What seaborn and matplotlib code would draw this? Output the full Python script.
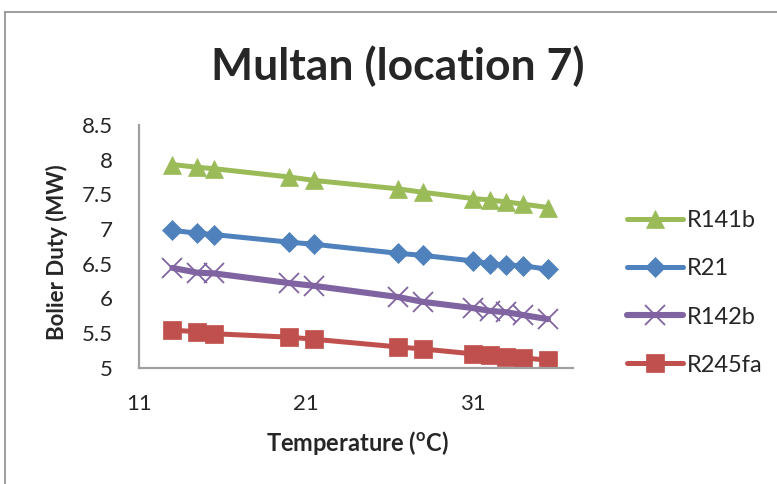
import matplotlib
matplotlib.use("Agg")
import matplotlib.pyplot as plt
import seaborn as sns
from matplotlib.lines import Line2D

temperature = [13, 14.5, 15.5, 20, 21.5, 26.5, 28, 31, 32, 33, 34, 35.5]
r141b = [7.93, 7.89, 7.87, 7.75, 7.70, 7.58, 7.53, 7.44, 7.42, 7.39, 7.36, 7.31]
r21 = [6.98, 6.94, 6.92, 6.81, 6.78, 6.65, 6.62, 6.54, 6.50, 6.48, 6.47, 6.42]
r142b = [6.44, 6.37, 6.36, 6.22, 6.18, 6.02, 5.95, 5.86, 5.82, 5.80, 5.76, 5.70]
r245fa = [5.54, 5.52, 5.49, 5.44, 5.41, 5.30, 5.27, 5.20, 5.18, 5.16, 5.14, 5.11]

series = ["R141b", "R21", "R142b", "R245fa"]
colors = ["#9BBB59", "#4F81BD", "#8064A2", "#C0504D"]
markers = ["^", "D", "x", "s"]
msizes = [13.5, 9.8, 14, 13.5]
lwidths = [3.6, 3.6, 4.4, 3.6]

sns.set_style("white")
plt.rcParams["font.family"] = ["Lato", "DejaVu Sans"]
plt.rcParams["mathtext.fontset"] = "custom"
plt.rcParams["mathtext.rm"] = "Lato"
plt.rcParams["mathtext.bf"] = "Lato:bold"

W, H = 777, 484
fig = plt.figure(figsize=(7.77, 4.84), dpi=100)
ax = fig.add_axes([139 / W, 1 - 367.7 / H, 434 / W, 242.7 / H])

for name, vals, c, m, ms, lw in zip(series, [r141b, r21, r142b, r245fa],
                                    colors, markers, msizes, lwidths):
    sns.lineplot(x=temperature, y=vals, ax=ax, color=c, marker=m,
                 markersize=ms, linewidth=lw, markeredgecolor=c,
                 markeredgewidth=1.3 if m == "x" else 0.5,
                 label=name, legend=False)

ax.set_xlim(11, 37)
ax.set_ylim(5, 8.5)
ax.set_xticks([11, 21, 31])
ax.set_yticks([5, 5.5, 6, 6.5, 7, 7.5, 8, 8.5])
ax.set_yticklabels(["5", "5.5", "6", "6.5", "7", "7.5", "8", "8.5"])
ax.tick_params(axis="both", length=0, labelsize=16)
ax.tick_params(axis="y", pad=19)
ax.tick_params(axis="x", pad=19)
ax.set_xlabel("")
ax.set_ylabel("")

for s in ["top", "right"]:
    ax.spines[s].set_visible(False)
for s in ["left", "bottom"]:
    ax.spines[s].set_color("#A0A0A0")
    ax.spines[s].set_linewidth(1.6)

# axis titles and chart title placed in figure pixels
fig.text(357 / W, 1 - 443 / H, r"Temperature ($^{\mathbf{o}}$C)", fontsize=17,
         fontweight="bold", ha="center", va="center")
fig.text(57 / W, 1 - 252 / H, "Bolier Duty (MW)", fontsize=16,
         fontweight="bold", ha="center", va="center", rotation=90)
fig.text(398 / W, 1 - 66 / H, "Multan (location 7)", fontsize=32,
         fontweight="bold", ha="center", va="center")

handles = [Line2D([0], [0], color=c, marker=m, markersize=ms, linewidth=lw,
                  markeredgecolor=c, markeredgewidth=1.3 if m == "x" else 0.5)
           for c, m, ms, lw in zip(colors, markers, msizes, lwidths)]
fig.legend(handles, series, loc="center left",
           bbox_to_anchor=(627 / W, 1 - 293 / H), frameon=False,
           fontsize=17, handlelength=2.37, handletextpad=0.17,
           labelspacing=1.15, borderpad=0, borderaxespad=0, numpoints=1)

# outer chart border
fig.add_artist(Line2D([5 / W, 1], [1 - 12 / H] * 2, color="#8C8C8C", lw=1.2))
fig.add_artist(Line2D([5 / W] * 2, [0, 1 - 12 / H], color="#8C8C8C", lw=1.2))

fig.savefig("out.png", dpi=100)
